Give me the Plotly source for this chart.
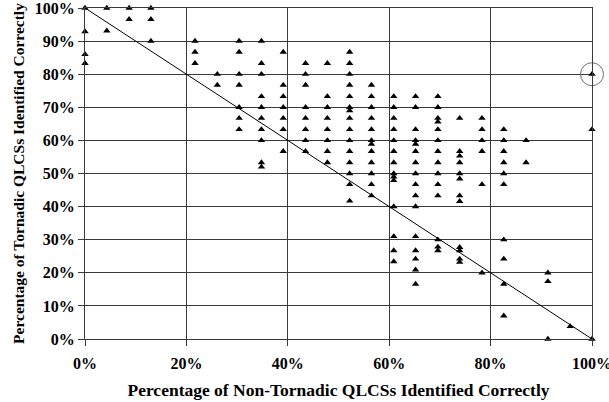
import plotly.graph_objects as go

# Percentage of non-tornadic QLCSs identified correctly (x) per column
col_x = [0.0, 4.3, 8.7, 13.0, 21.7, 26.1, 30.4, 34.8, 39.1, 43.5, 47.8,
         52.2, 56.5, 60.9, 65.2, 69.6, 73.9, 78.3, 82.6, 87.0, 91.3, 95.7, 100.0]

# Percentage of tornadic QLCSs identified correctly (y) for each column
col_y = [
    [100, 92.9, 86.0, 83.3],
    [100, 93.1],
    [100, 96.6],
    [100, 96.6, 90.0],
    [90.0, 86.7, 83.3],
    [80.0, 76.7],
    [90.0, 86.7, 80.0, 76.7, 70.0, 66.7, 63.3],
    [90.0, 83.3, 80.0, 73.3, 70.0, 66.7, 63.3, 60.0, 53.3, 52.0],
    [86.7, 76.7, 73.3, 70.0, 66.7, 63.3, 56.7],
    [83.3, 80.0, 76.7, 70.0, 66.7, 63.3, 60.0, 56.7],
    [83.3, 73.3, 70.0, 66.7, 63.3, 60.0, 56.7, 53.3],
    [86.7, 83.3, 80.0, 76.7, 73.3, 70.0, 69.0, 66.7, 63.3, 60.0, 56.7, 53.3, 50.0, 46.7, 41.7],
    [76.7, 73.3, 70.0, 66.7, 63.3, 60.0, 58.9, 56.7, 53.3, 50.0, 46.7, 43.3],
    [73.3, 70.0, 66.7, 63.3, 60.0, 56.7, 53.3, 50.0, 49.0, 47.9, 40.0, 31.0, 26.7, 23.4],
    [73.3, 70.0, 63.3, 60.0, 58.9, 56.7, 53.3, 50.0, 46.7, 43.3, 40.0, 31.0, 26.7, 24.2, 20.9, 16.6],
    [73.3, 70.0, 66.7, 65.6, 63.3, 60.0, 56.7, 53.3, 50.0, 46.7, 43.3, 30.0, 27.8, 26.7],
    [66.7, 56.7, 55.3, 53.3, 50.0, 48.4, 43.3, 41.6, 27.7, 26.7, 24.2, 23.2],
    [66.7, 63.3, 60.0, 56.7, 46.7, 20.0],
    [63.3, 60.0, 56.7, 53.3, 50.0, 46.7, 30.0, 24.2, 16.6, 7.0],
    [60.0, 53.3],
    [20.0, 17.4, 0.0],
    [3.8],
    [80.0, 63.3, 0.0],
]

# 1:1 trade-off reference line
line_x = [0, 100]
line_y = [100, 0]

# circled point
circle_x = [100]
circle_y = [80]

x_ticks = [0, 20, 40, 60, 80, 100]
x_labels = ["0%", "20%", "40%", "60%", "80%", "100%"]
y_ticks = [0, 10, 20, 30, 40, 50, 60, 70, 80, 90, 100]
y_labels = ["0%", "10%", "20%", "30%", "40%", "50%", "60%", "70%", "80%", "90%", "100%"]

xs, ys = [], []
for cx, cys in zip(col_x, col_y):
    for cy in cys:
        xs.append(cx)
        ys.append(cy)

FONT = "Liberation Serif"

fig = go.Figure()
fig.add_trace(go.Scatter(x=line_x, y=line_y, mode="lines",
                         line=dict(color="black", width=1), hoverinfo="skip",
                         showlegend=False))
fig.add_trace(go.Scatter(x=xs, y=ys, mode="markers",
                         marker=dict(symbol="triangle-up", size=6.5, color="black"),
                         cliponaxis=False, showlegend=False))
fig.add_trace(go.Scatter(x=circle_x, y=circle_y, mode="markers",
                         marker=dict(symbol="circle-open", size=23,
                                     color="#707070", line=dict(width=1)),
                         cliponaxis=False, showlegend=False))

axis_common = dict(
    showgrid=True, gridcolor="#3a3a3a", gridwidth=1,
    ticks="outside", tickcolor="#3a3a3a", ticklen=6,
    tickfont=dict(family=FONT, size=16, color="black", weight="bold"),
    ticklabeloverflow="allow", automargin=False,
    showline=True, mirror=True, linecolor="#3a3a3a", linewidth=1,
    zeroline=True, zerolinecolor="#a0a0a0", zerolinewidth=2,
)

fig.update_layout(
    width=609, height=402,
    margin=dict(l=85, r=17, t=8, b=63, autoexpand=False),
    paper_bgcolor="white", plot_bgcolor="white",
    xaxis=dict(range=[0, 100], tickvals=x_ticks, ticktext=x_labels,
               ticklabelstandoff=4,
               title=dict(text="Percentage of Non-Tornadic QLCSs Identified Correctly",
                          font=dict(family=FONT, size=17.5, color="black", weight="bold"),
                          standoff=12),
               **axis_common),
    yaxis=dict(range=[0, 100], tickvals=y_ticks, ticktext=y_labels,
               title=dict(text="Percentage of Tornadic QLCSs Identified Correctly",
                          font=dict(family=FONT, size=15.5, color="black", weight="bold"),
                          standoff=6),
               **axis_common),
)

fig.write_html("out.html", config={"displayModeBar": False},
               post_script="document.body.style.margin='0';document.body.style.overflow='hidden';")
